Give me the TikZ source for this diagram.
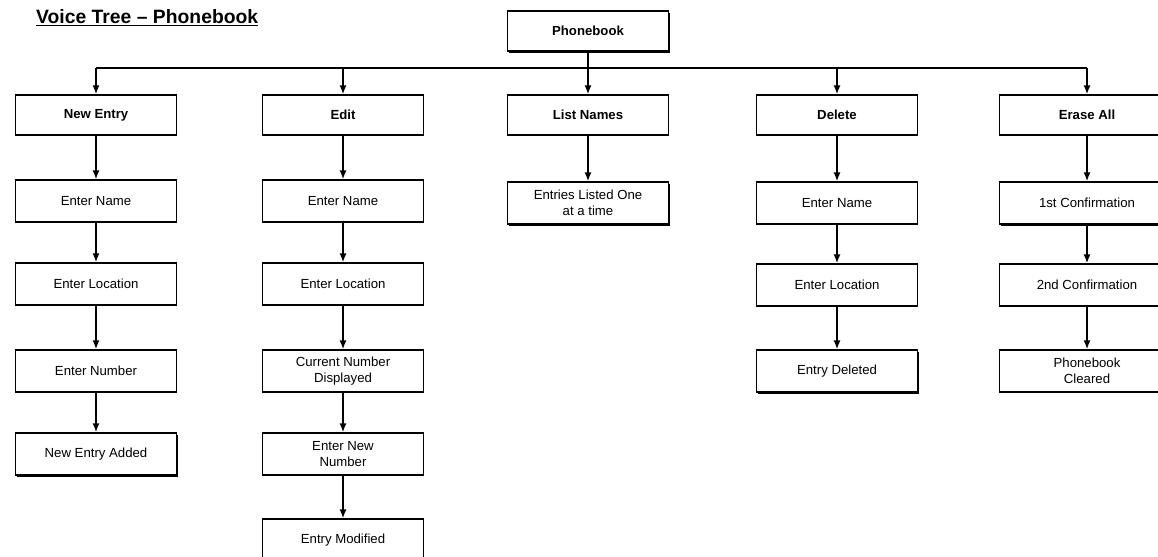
\documentclass[tikz,border=0pt]{standalone}
\usepackage{fontspec}
\setmainfont{Liberation Sans}
\usetikzlibrary{arrows.meta,shadows}

\tikzset{
	box/.style={draw, line width=0.9pt, fill=white, align=center, inner sep=1pt,
		minimum width=3.22cm, minimum height=0.84cm, font=\fontsize{7.5}{9}\selectfont},
	topbox/.style={box, minimum height=0.8cm, font=\fontsize{7.5}{9}\selectfont\bfseries},
	shbox/.style={drop shadow={opacity=1, fill=black, shadow xshift=0.6pt, shadow yshift=-0.9pt}},
	arr/.style={line width=0.9pt, -{Latex[length=5pt,width=4pt]}}
}

\begin{document}
\begin{tikzpicture}[x=0.02cm, y=-0.02cm]
		\useasboundingbox ( 0, 0 ) rectangle ( 1158, 556 );
		\clip ( 0, 0 ) rectangle ( 1158, 556 );

		% заголовок
		\node [anchor=west, font=\fontsize{11}{13}\selectfont\bfseries] (title) at ( 30, 18 ) {\underline{Voice Tree -- Phonebook}};

		% корень
		\node [topbox, shbox] (pb) at ( 588, 31 ) {Phonebook};
		\coordinate (busL) at ( 96, 68 );
		\coordinate (busR) at ( 1087, 68 );
		\draw [line width=0.9pt] (busL) -- (busR);
		\draw [line width=0.9pt] (pb.south) -- (pb.south |- busL);

		% первый уровень
		\node [topbox] (ne) at ( 96, 115 ) {New Entry};
		\node [topbox] (ed) at ( 343, 115 ) {Edit};
		\node [topbox] (ln) at ( 588, 115 ) {List Names};
		\node [topbox] (de) at ( 837, 115 ) {Delete};
		\node [topbox, minimum width=3.5cm] (ea) at ( 1087, 115 ) {Erase All};
		\draw [arr] (ne.north |- busL) -- (ne.north);
		\draw [arr] (ed.north |- busL) -- (ed.north);
		\draw [arr] (ln.north |- busL) -- (ln.north);
		\draw [arr] (de.north |- busL) -- (de.north);
		\draw [arr] (ea.north |- busL) -- (ea.north);

		% New Entry
		\node [box] (ne1) at ( 96, 201 ) {Enter Name};
		\node [box] (ne2) at ( 96, 284 ) {Enter Location};
		\node [box] (ne3) at ( 96, 371 ) {Enter Number};
		\node [box, shbox] (ne4) at ( 96, 454 ) {New Entry Added};
		\draw [arr] (ne) -- (ne1);
		\draw [arr] (ne1) -- (ne2);
		\draw [arr] (ne2) -- (ne3);
		\draw [arr] (ne3) -- (ne4);

		% Edit
		\node [box] (ed1) at ( 343, 201 ) {Enter Name};
		\node [box] (ed2) at ( 343, 284 ) {Enter Location};
		\node [box] (ed3) at ( 343, 371 ) {Current Number\\Displayed};
		\node [box] (ed4) at ( 343, 454 ) {Enter New\\Number};
		\node [box] (ed5) at ( 343, 540 ) {Entry Modified};
		\draw [arr] (ed) -- (ed1);
		\draw [arr] (ed1) -- (ed2);
		\draw [arr] (ed2) -- (ed3);
		\draw [arr] (ed3) -- (ed4);
		\draw [arr] (ed4) -- (ed5);

		% List Names
		\node [box, shbox] (ln1) at ( 588, 203 ) {Entries Listed One\\at a time};
		\draw [arr] (ln) -- (ln1);

		% Delete
		\node [box] (de1) at ( 837, 203 ) {Enter Name};
		\node [box] (de2) at ( 837, 285 ) {Enter Location};
		\node [box, shbox] (de3) at ( 837, 371 ) {Entry Deleted};
		\draw [arr] (de) -- (de1);
		\draw [arr] (de1) -- (de2);
		\draw [arr] (de2) -- (de3);

		% Erase All
		\node [box, shbox, minimum width=3.5cm] (ea1) at ( 1087, 203 ) {1st Confirmation};
		\node [box, minimum width=3.5cm] (ea2) at ( 1087, 285 ) {2nd Confirmation};
		\node [box, minimum width=3.5cm] (ea3) at ( 1087, 371 ) {Phonebook\\Cleared};
		\draw [arr] (ea) -- (ea1);
		\draw [arr] (ea1) -- (ea2);
		\draw [arr] (ea2) -- (ea3);
	\end{tikzpicture}
\end{document}
